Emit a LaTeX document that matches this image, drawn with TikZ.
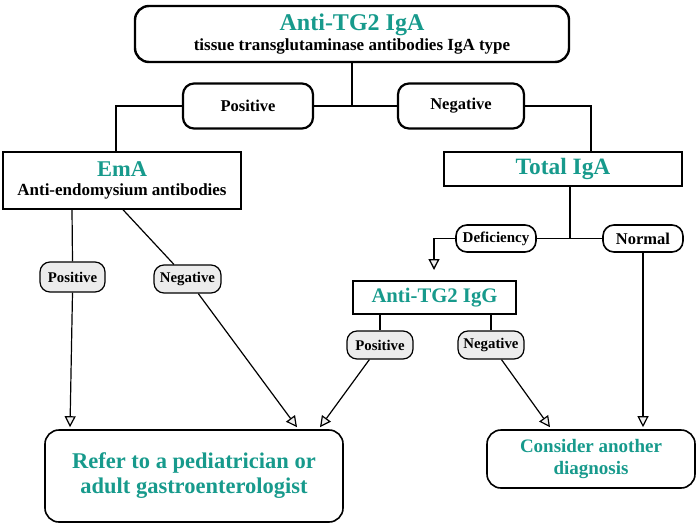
\documentclass[tikz,border=0pt]{standalone}
\usepackage{fontspec}
\setmainfont{Liberation Serif}
\usetikzlibrary{arrows.meta}
\definecolor{tgteal}{RGB}{23,154,140}

\begin{document}
\begin{tikzpicture}[x=1pt,y=-1pt,font=\bfseries,
    rbox/.style={draw,rounded corners=14pt,line width=1.6pt,align=center,inner sep=0pt},
    sbox/.style={draw,line width=1.4pt,align=center,inner sep=0pt},
    pill/.style={draw,rounded corners=11pt,line width=1.6pt,inner sep=0pt},
    graypill/.style={pill,fill=gray!15,line width=1.2pt,rounded corners=10pt,
        minimum width=66pt,minimum height=29pt,font=\bfseries\fontsize{14.8}{16}\selectfont},
    tip/.style={-{Triangle[length=11pt,width=11pt,fill=gray!12]}}]

    \useasboundingbox (0,0) rectangle (700,525);

    % Test de depart
    \node[rbox,line width=2.4pt,minimum width=434pt,minimum height=56pt,
        font=\bfseries\fontsize{17}{20}\selectfont] (tga) at (352,34)
        {{\color{tgteal}\fontsize{24}{20}\selectfont Anti-TG2 IgA}\\tissue transglutaminase antibodies IgA type};

    % Premier resultat
    \node[pill,line width=2.2pt,minimum width=130pt,minimum height=45pt,
        font=\bfseries\fontsize{16.5}{18}\selectfont] (posa) at (248,106) {Positive};
    \node[pill,line width=2.2pt,minimum width=126pt,minimum height=45pt,
        font=\bfseries\fontsize{16.5}{18}\selectfont] (nega) at (461,106) {Negative};

    \draw[line width=2.2pt] (tga.south) -- (tga.south |- posa.east);
    \draw[line width=2.2pt] (posa.east) -- (nega.west);

    % EmA et IgA totales
    \node[sbox,minimum width=238pt,minimum height=57pt,
        font=\bfseries\fontsize{17}{19.5}\selectfont] (ema) at (122,180.5)
        {{\color{tgteal}\fontsize{22.5}{19.5}\selectfont EmA}\\Anti-endomysium antibodies};
    \node[sbox,minimum width=238pt,minimum height=34pt,text=tgteal,
        font=\bfseries\fontsize{23.4}{24}\selectfont] (tot) at (563,169) {Total IgA};

    \draw[line width=2.2pt] (posa.west) -| ([xshift=-6pt]ema.north);
    \draw[line width=2.2pt] (nega.east) -| ([xshift=28pt]tot.north);

    % Deficit / normal
    \node[pill,minimum width=80pt,minimum height=27pt,
        font=\bfseries\fontsize{15}{16}\selectfont] (def) at (496,238.5) {Deficiency};
    \node[pill,minimum width=80pt,minimum height=27pt,
        font=\bfseries\fontsize{16.5}{18}\selectfont] (nor) at (643,238.5) {Normal};

    \draw[line width=1.5pt] ([xshift=7pt]tot.south) -- ([xshift=7pt]tot.south |- def.east);
    \draw[line width=1.5pt] (def.east) -- (nor.west);

    % IgG
    \node[sbox,line width=1.3pt,minimum width=163pt,minimum height=33pt,text=tgteal,
        font=\bfseries\fontsize{20.7}{22}\selectfont] (igg) at (434.5,297.5) {Anti-TG2 IgG};
    \coordinate (defend) at (434,270);
    \draw[tip,line width=1.3pt] (def.west) -| (defend);

    % Resultats secondaires
    \node[graypill,minimum width=65pt,minimum height=30pt] (epos) at (72.5,277) {Positive};
    \node[graypill,minimum width=67pt,minimum height=28pt] (eneg) at (187.5,279) {Negative};
    \node[graypill,minimum height=28pt] (gpos) at (380,345) {Positive};
    \node[graypill,minimum height=28pt] (gneg) at (491,345) {Negative};

    % Conclusions
    \node[rbox,minimum width=298pt,minimum height=92pt,text=tgteal,
        font=\bfseries\fontsize{22.5}{25}\selectfont] (refer) at (194,476)
        {Refer to a pediatrician or\\adult gastroenterologist};
    \node[rbox,minimum width=208pt,minimum height=58pt,text=tgteal,
        font=\bfseries\fontsize{19}{22}\selectfont] (other) at (591,459)
        {Consider another\\diagnosis};

    % Fleches
    \draw[line width=1.2pt] ([xshift=-50pt]ema.south) -- (epos.north);
    \draw[tip,line width=1.2pt] (epos.south) -- ([xshift=-124pt,yshift=2pt]refer.north);
    \draw[line width=1.2pt] ([xshift=1pt]ema.south) -- (eneg);
    \draw[tip,line width=1.2pt] (eneg) -- ([xshift=103pt,yshift=2pt]refer.north);
    \draw[line width=1.2pt] (gpos.north |- igg.south) -- (gpos.north);
    \draw[tip,line width=1.2pt] (gpos) -- ([xshift=126pt,yshift=2pt]refer.north);
    \draw[line width=1.2pt] (gneg.north |- igg.south) -- (gneg.north);
    \draw[tip,line width=1.2pt] (gneg) -- ([xshift=-41pt,yshift=2pt]other.north);
    \draw[tip,line width=1.2pt] (nor.south) -- ([yshift=2pt]nor.south |- other.north);

\end{tikzpicture}
\end{document}
